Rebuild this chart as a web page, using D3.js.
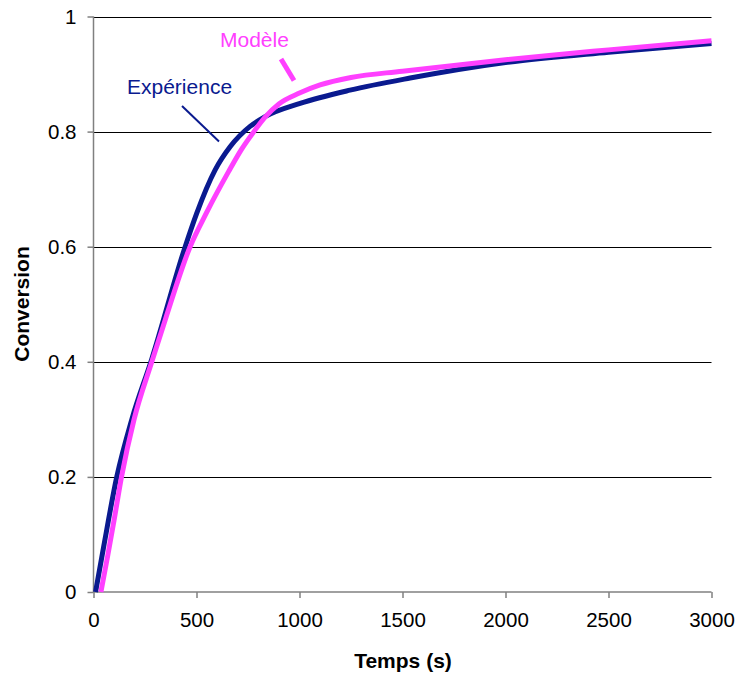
<!DOCTYPE html>
<html><head><meta charset="utf-8">
<script src="https://cdn.jsdelivr.net/npm/d3@7"></script>
<style>body{margin:0;background:#fff}svg{display:block}text{font-family:"Liberation Sans",Arial,sans-serif}</style>
</head><body>
<script>
const expTime = [10, 50, 113, 186, 283, 445, 500, 590, 664, 760, 833, 1003, 1245, 1537, 2000, 2500, 3000];
const expConv = [0, 0.08, 0.2, 0.3, 0.405, 0.6, 0.657, 0.733, 0.774, 0.809, 0.826, 0.849, 0.872, 0.893, 0.920, 0.938, 0.953];
const modTime = [36, 70, 100, 136, 197, 283, 350, 469, 550, 655, 720, 785, 833, 900, 1000, 1100, 1250, 1500, 2000, 2500, 3000];
const modConv = [0, 0.065, 0.125, 0.2, 0.3, 0.4, 0.475, 0.6, 0.66, 0.73, 0.77, 0.803, 0.825, 0.848, 0.867, 0.881, 0.894, 0.905, 0.925, 0.942, 0.958];
const xTicks = [0, 500, 1000, 1500, 2000, 2500, 3000];
const yTicks = [0, 0.2, 0.4, 0.6, 0.8, 1];
const yTickLabels = ["0", "0.2", "0.4", "0.6", "0.8", "1"];

const W = 736, H = 675;
const svg = d3.select("body").append("svg").attr("width", W).attr("height", H);
const x = d3.scaleLinear().domain([0, 3000]).range([93.5, 711.5]);
const y = d3.scaleLinear().domain([0, 1]).range([592, 16.5]);

// gridlines
svg.append("g").selectAll("line").data(yTicks.filter(d => d > 0)).join("line")
  .attr("x1", x(0)).attr("x2", x(3000))
  .attr("y1", d => Math.round(y(d)) + 0.5).attr("y2", d => Math.round(y(d)) + 0.5)
  .attr("stroke", "#000").attr("stroke-width", 1);

// axes
const xAxis = svg.append("g").attr("transform", `translate(0,${y(0)})`)
  .call(d3.axisBottom(x).tickValues(xTicks).tickSize(6).tickPadding(14).tickFormat(d3.format("d")));
const yAxis = svg.append("g").attr("transform", `translate(${x(0)},0)`)
  .call(d3.axisLeft(y).tickValues(yTicks).tickSize(6).tickPadding(11).tickFormat((d, i) => yTickLabels[i]));
[xAxis, yAxis].forEach(g => {
  g.select(".domain").attr("stroke", "#808080").attr("stroke-width", 1.5);
  g.selectAll(".tick line").attr("stroke", "#808080").attr("stroke-width", 1.5);
  g.selectAll(".tick text").attr("font-size", 20.5).attr("fill", "#000")
    .attr("font-family", "Liberation Sans, Arial, sans-serif");
});
xAxis.select(".domain").attr("d", `M${x(0)},0H${x(3000)}`);
yAxis.select(".domain").attr("d", `M0,${y(0)}V${y(1)}`);

// lines
const line = d3.line().x(d => x(d[0])).y(d => y(d[1])).curve(d3.curveMonotoneX);
const expData = expTime.map((t, i) => [t, expConv[i]]);
const modData = modTime.map((t, i) => [t, modConv[i]]);
svg.append("path").datum(expData).attr("d", line).attr("fill", "none")
  .attr("stroke", "#0a1a8f").attr("stroke-width", 5).attr("stroke-linejoin", "round");
svg.append("path").datum(modData).attr("d", line).attr("fill", "none")
  .attr("stroke", "#ff40ff").attr("stroke-width", 5).attr("stroke-linejoin", "round");

// annotations
svg.append("text").attr("x", 127).attr("y", 93.5).attr("font-size", 21).attr("fill", "#0a1a8f").text("Expérience");
svg.append("line").attr("x1", 182).attr("y1", 106).attr("x2", 219).attr("y2", 141.5)
  .attr("stroke", "#0a1a8f").attr("stroke-width", 2);
svg.append("text").attr("x", 220).attr("y", 47).attr("font-size", 21).attr("fill", "#ff40ff").text("Modèle");
svg.append("line").attr("x1", 281).attr("y1", 59).attr("x2", 294).attr("y2", 80.5)
  .attr("stroke", "#ff40ff").attr("stroke-width", 5);

// axis titles
svg.append("text").attr("x", 403).attr("y", 667.5).attr("text-anchor", "middle")
  .attr("font-size", 21).attr("font-weight", "bold").text("Temps (s)");
svg.append("text").attr("transform", "translate(29,304) rotate(-90)").attr("text-anchor", "middle")
  .attr("font-size", 21).attr("font-weight", "bold").text("Conversion");
</script>
</body></html>
